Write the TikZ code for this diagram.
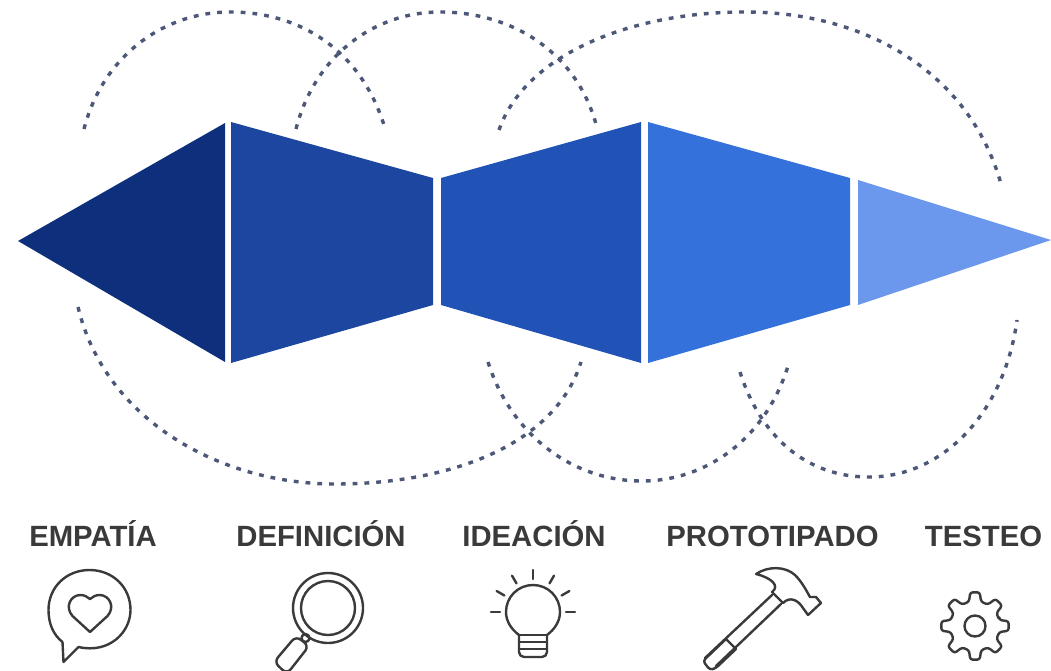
\documentclass[tikz,border=0pt]{standalone}
\usepackage{fontspec}
\setmainfont{Liberation Sans}
\definecolor{sec1}{HTML}{0D2F7C}
\definecolor{sec2}{HTML}{1C469F}
\definecolor{sec3}{HTML}{2152B6}
\definecolor{sec4}{HTML}{3571DB}
\definecolor{sec5}{HTML}{6B98EC}
\definecolor{arcc}{HTML}{4D5878}
\definecolor{ink}{HTML}{3A3A3A}
\begin{document}
\begin{tikzpicture}[x=1pt,y=-1pt]
  \tikzset{ dotarc/.style={arcc,line width=3.4pt,dash pattern=on 4.8pt off 7pt},
    stage/.style={ink,font=\fontsize{29.3}{31}\selectfont\bfseries,inner sep=0pt,anchor=base},
    icon/.style={draw=ink,line width=2.4pt,line join=round,line cap=round},
  }
  \useasboundingbox (0,0) rectangle (1051,671);

  % the five blocks
  \fill[sec1] (18,241) -- (225,123) -- (225,362) -- cycle;
  \fill[sec2] (231,122) -- (433,178) -- (433,305) -- (231,363) -- cycle;
  \fill[sec3] (441,178) -- (641,122) -- (641,363) -- (441,305) -- cycle;
  \fill[sec4] (648,122) -- (850,178) -- (850,305) -- (648,363) -- cycle;
  \fill[sec5] (858,180) -- (1051,240) -- (858,305) -- cycle;

  % the arcs above
  \draw[dotarc] (84,129) .. controls (103,55) and (165,12) .. (230,12) .. controls (300,12) and (360,50) .. (384,125);
  \draw[dotarc] (296,129) .. controls (315,55) and (375,12) .. (440,12) .. controls (510,12) and (575,50) .. (596,124);
  \draw[dotarc] (499,130) .. controls (525,55) and (630,12) .. (745,12) .. controls (875,12) and (972,80) .. (1001,184);

  % the arcs below
  \draw[dotarc] (78,307) .. controls (105,420) and (220,484) .. (335,484) .. controls (450,484) and (555,445) .. (581,362);
  \draw[dotarc] (488,362) .. controls (510,432) and (570,481) .. (642,481) .. controls (705,481) and (765,440) .. (788,366);
  \draw[dotarc] (740,372) .. controls (760,435) and (805,477) .. (869,477) .. controls (945,477) and (1005,410) .. (1017,320);

  \node[stage] (empatia) at (93,546) {EMPATÍA};
  \node[stage] (definicion) at (321,546) {DEFINICIÓN};
  \node[stage] (ideacion) at (534,546) {IDEACIÓN};
  \node[stage] (prototipado) at (772.5,546) {PROTOTIPADO};
  \node[stage] (testeo) at (983.5,546) {TESTEO};

  % speech bubble
  \begin{scope}[shift={(89.5,610)}]
    \draw[icon] (-27,32) -- (-26,52) -- (-11,37) .. controls (20,44) and (41,22) .. (41,0)
      .. controls (41,-23) and (23,-40) .. (0,-40) .. controls (-23,-40) and (-41,-23) .. (-41,0)
      .. controls (-41,14) and (-36,25) .. (-27,32);
    \draw[icon] (0.5,22) -- (-17,6) .. controls (-25,-3) and (-19,-15) .. (-9,-15)
      .. controls (-5,-15) and (-2,-13) .. (0.5,-11) .. controls (3,-13) and (6,-15) .. (10,-15)
      .. controls (20,-15) and (26,-3) .. (18,6) -- cycle;
  \end{scope}

  % magnifier
  \begin{scope}[shift={(328,608)}]
    \draw[icon] (0,0) circle (35);
    \draw[icon] (0,0) circle (27);
    \draw[icon] (-22.5,30) circle (4);
    \draw[icon,rounded corners=6pt] (-32,28) -- (-54,54) -- (-41,66) -- (-19,38) -- cycle;
  \end{scope}

  % bulb
  \begin{scope}[shift={(533,612)}]
    \draw[icon] (-14,23) .. controls (-22,17) and (-27,9) .. (-27,0)
      .. controls (-27,-15) and (-15,-27) .. (0,-27) .. controls (15,-27) and (27,-15) .. (27,0)
      .. controls (27,9) and (22,17) .. (14,23);
    \draw[icon] (-14,23) -- (14,23) (-14,30) -- (14,30) (-14,37) -- (14,37);
    \draw[icon,rounded corners=5pt] (-14,23) -- (-14,45) -- (14,45) -- (14,23);
    \foreach \a in {180,210,240,270,300,330,360}
      \draw[icon] (\a:33) -- (\a:42);
  \end{scope}

  % hammer
  \draw[icon] (772,595) -- (705,658);
  \draw[icon] (781,604) -- (716,666);
  \draw[icon] (726,639) -- (736,649);
  \draw[icon,rounded corners=3pt] (726,639) -- (703,661) -- (710,670) -- (716,668) -- (736,649);
  \draw[icon] (756,574) .. controls (768,566) and (785,566) .. (795,575)
    .. controls (802,582) and (806,590) .. (810,597) -- (816,597) -- (821,603) -- (808,615)
    -- (803,608) .. controls (798,600) and (790,596) .. (783,603) -- (772,592)
    .. controls (780,586) and (772,578) .. (756,574) -- cycle;

  % gear
  \begin{scope}[shift={(975,626)}]
    \draw[icon,rounded corners=2.5pt] (-14:25) \foreach \a in {0,45,...,315} {
      -- (\a-14:25) -- (\a-8:34) -- (\a+8:34) -- (\a+14:25) } -- cycle;
    \draw[icon] (0,0) circle (10.5);
  \end{scope}
\end{tikzpicture}
\end{document}
